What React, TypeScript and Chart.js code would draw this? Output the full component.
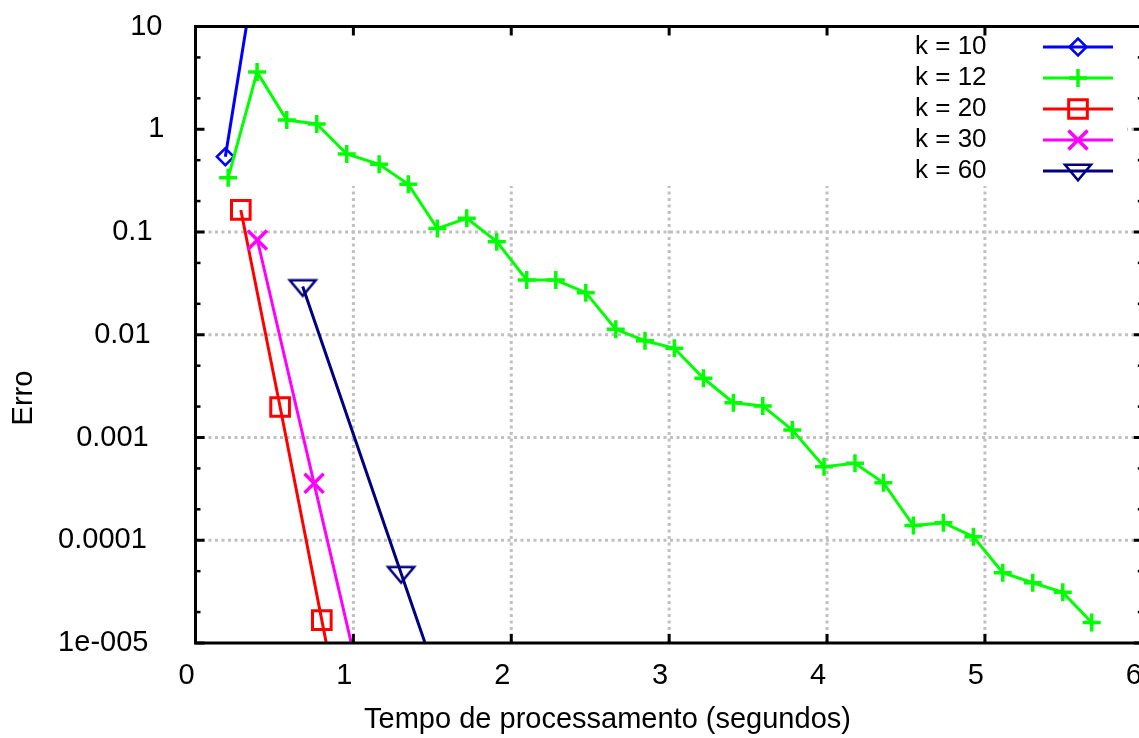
import React, { useEffect, useRef } from 'react';
import { Chart, registerables } from 'chart.js';
import { drawPoint } from 'chart.js/helpers';

Chart.register(...registerables);

const FONT = '"Liberation Sans", Arial, Helvetica, sans-serif';

// ---------- data ----------
const seriesLabels = ['k = 10', 'k = 12', 'k = 20', 'k = 30', 'k = 60'];

const k10X = [0.189, 0.378];
const k10Y = [0.54, 34];

const k12X = [0.207, 0.39, 0.578, 0.768, 0.958, 1.163, 1.348, 1.532, 1.718, 1.908, 2.098, 2.282, 2.472, 2.662, 2.847, 3.033, 3.217, 3.407, 3.593, 3.78, 3.981, 4.177, 4.357, 4.547, 4.737, 4.927, 5.113, 5.303, 5.493, 5.676];
const k12Y = [0.338, 3.6, 1.23, 1.125, 0.574, 0.456, 0.291, 0.108, 0.136, 0.0805, 0.0341, 0.0341, 0.0257, 0.0113, 0.00875, 0.00738, 0.00377, 0.00218, 0.00203, 0.00118, 0.00052, 0.000561, 0.000363, 0.000139, 0.000148, 0.000108, 4.83e-5, 3.86e-5, 3.11e-5, 1.58e-5];

const k20X = [0.287, 0.536, 0.8, 1.064];
const k20Y = [0.164, 0.00198, 1.67e-5, 1.4e-7];

const k30X = [0.392, 0.751, 1.11];
const k30Y = [0.0836, 3.58e-4, 1.53e-6];

const k60X = [0.679, 1.302, 1.925];
const k60Y = [0.0295, 4.77e-5, 7.9e-8];

const xTickValues = [0, 1, 2, 3, 4, 5, 6];
const xTickLabels = ['0', '1', '2', '3', '4', '5', '6'];
const yTickValues = [1e-5, 1e-4, 1e-3, 1e-2, 1e-1, 1, 10];
const yTickLabels = ['1e-005', '0.0001', '0.001', '0.01', '0.1', '1', '10'];
const yMinorTicks = [2e-5, 5e-5, 2e-4, 5e-4, 2e-3, 5e-3, 2e-2, 5e-2, 0.2, 0.5, 2, 5];
const xGridValues = [1, 2, 3, 4, 5];
const yGridValues = [1e-4, 1e-3, 1e-2, 1e-1, 1];

const xAxisTitle = 'Tempo de processamento (segundos)';
const yAxisTitle = 'Erro';

// key box (region where grid is hidden), in data units
const keyBoxXMax = 5.9;
const keyBoxYMin = 0.28;

const BLUE = '#0000ff';
const GREEN = '#00ff00';
const RED = '#ff0000';
const MAGENTA = '#ff00ff';
const NAVY = '#000080';
const GRID = '#c0c0c0';

const CANVAS_W = 1180;
const CANVAS_H = 738;
const PLOT_LEFT = 195.5;
const PLOT_TOP = 26.5;
const PLOT_BOTTOM = 643;
const PLOT_RIGHT = 1142.8;
const TEXT_SIZE = 29;
// y tick labels: gnuplot-style justification with a per-character width estimate
const Y_LABEL_ANCHOR = 166.3;
const Y_LABEL_CHAR = 18.03;

function toPoints(xs: number[], ys: number[]) {
  return xs.map((x, i) => ({ x, y: ys[i] }));
}

export default function App() {
  const ref = useRef<HTMLCanvasElement>(null);

  useEffect(() => {
    const canvas = ref.current!;

    const tri = document.createElement('canvas');
    tri.width = 34;
    tri.height = 26;
    const tctx = tri.getContext('2d')!;
    tctx.strokeStyle = NAVY;
    tctx.lineWidth = 2.5;
    tctx.beginPath();
    tctx.moveTo(4, 6.7);
    tctx.lineTo(30, 6.7);
    tctx.lineTo(17, 22.2);
    tctx.closePath();
    tctx.stroke();

    const decor = {
      id: 'decor',
      beforeDatasetsDraw(chart: any) {
        const { ctx, chartArea: ca, scales } = chart;
        const xs = scales.x, ys = scales.y;
        ctx.save();
        ctx.strokeStyle = GRID;
        ctx.lineWidth = 3;
        ctx.setLineDash([3, 3.5]);
        for (const v of xGridValues) {
          const px = xs.getPixelForValue(v);
          ctx.beginPath();
          ctx.moveTo(px, ca.bottom);
          ctx.lineTo(px, ca.top);
          ctx.stroke();
        }
        for (const v of yGridValues) {
          const py = ys.getPixelForValue(v);
          ctx.beginPath();
          ctx.moveTo(ca.left, py);
          ctx.lineTo(ca.right, py);
          ctx.stroke();
        }
        ctx.setLineDash([]);
        ctx.fillStyle = '#ffffff';
        const kx = xs.getPixelForValue(keyBoxXMax);
        const ky = ys.getPixelForValue(keyBoxYMin);
        ctx.fillRect(ca.left, ca.top, kx - ca.left, ky - ca.top);
        ctx.restore();
      },
      afterDatasetsDraw(chart: any) {
        const { ctx, chartArea: ca, scales } = chart;
        const xs = scales.x, ys = scales.y;
        ctx.save();
        ctx.strokeStyle = '#000';
        ctx.lineCap = 'butt';
        const seg = (a: number, b: number, c: number, d: number) => {
          ctx.beginPath();
          ctx.moveTo(a, b);
          ctx.lineTo(c, d);
          ctx.stroke();
        };
        ctx.lineWidth = 3;
        for (const v of yTickValues) {
          const py = ys.getPixelForValue(v);
          seg(ca.left, py, ca.left + 9, py);
          seg(ca.right, py, ca.right - 9, py);
        }
        for (const v of xTickValues) {
          const px = xs.getPixelForValue(v);
          seg(px, ca.bottom, px, ca.bottom - 9);
          seg(px, ca.top, px, ca.top + 9);
        }
        ctx.lineWidth = 2.5;
        for (const v of yMinorTicks) {
          const py = ys.getPixelForValue(v);
          seg(ca.left, py, ca.left + 5, py);
          seg(ca.right, py, ca.right - 5, py);
        }
        ctx.lineWidth = 3;
        ctx.strokeRect(ca.left, ca.top, ca.right - ca.left, ca.bottom - ca.top);

        // y tick labels
        ctx.fillStyle = '#000';
        ctx.font = `${TEXT_SIZE}px ${FONT}`;
        ctx.textAlign = 'left';
        ctx.textBaseline = 'middle';
        yTickValues.forEach((v, i) => {
          const label = yTickLabels[i];
          ctx.fillText(label, Y_LABEL_ANCHOR - Y_LABEL_CHAR * label.length, ys.getPixelForValue(v));
        });

        // legend
        ctx.font = `26px ${FONT}`;
        ctx.textAlign = 'left';
        ctx.textBaseline = 'middle';
        chart.data.datasets.forEach((ds: any, i: number) => {
          const yy = 47 + i * 31;
          ctx.fillStyle = '#000';
          ctx.fillText(seriesLabels[i], 915, yy);
          ctx.strokeStyle = ds.borderColor;
          ctx.lineWidth = ds.borderWidth;
          seg(1043, yy, 1113, yy);
          ctx.fillStyle = 'rgba(0,0,0,0)';
          ctx.strokeStyle = ds.pointBorderColor;
          ctx.lineWidth = ds.pointBorderWidth;
          drawPoint(ctx, {
            pointStyle: ds.pointStyle,
            radius: ds.pointRadius,
            rotation: 0,
            borderWidth: ds.pointBorderWidth,
          } as any, 1078, yy);
        });

        // axis titles
        ctx.fillStyle = '#000';
        ctx.font = `${TEXT_SIZE}px ${FONT}`;
        ctx.textAlign = 'center';
        ctx.textBaseline = 'middle';
        ctx.fillText(xAxisTitle, 607.5, 720);
        ctx.translate(24, 398);
        ctx.rotate(-Math.PI / 2);
        ctx.fillText(yAxisTitle, 0, 0);
        ctx.restore();
      },
    };

    const common = { showLine: true, fill: false, tension: 0, borderWidth: 3, pointBackgroundColor: 'rgba(0,0,0,0)' };

    const chart = new Chart(canvas, {
      type: 'scatter',
      data: {
        datasets: [
          { ...common, label: seriesLabels[0], data: toPoints(k10X, k10Y), borderColor: BLUE, pointBorderColor: BLUE, pointStyle: 'rectRot', pointRadius: 8.5, pointBorderWidth: 2.5, order: 4 },
          { ...common, label: seriesLabels[1], data: toPoints(k12X, k12Y), borderColor: GREEN, pointBorderColor: GREEN, pointStyle: 'cross', pointRadius: 9, pointBorderWidth: 3.5, order: 3 },
          { ...common, label: seriesLabels[2], data: toPoints(k20X, k20Y), borderColor: RED, pointBorderColor: RED, pointStyle: 'rect', pointRadius: 13.2, pointBorderWidth: 3, order: 2 },
          { ...common, label: seriesLabels[3], data: toPoints(k30X, k30Y), borderColor: MAGENTA, pointBorderColor: MAGENTA, pointStyle: 'crossRot', pointRadius: 13.5, pointBorderWidth: 3.5, order: 1 },
          { ...common, label: seriesLabels[4], data: toPoints(k60X, k60Y), borderColor: NAVY, pointBorderColor: NAVY, pointStyle: tri as any, pointRadius: 10, pointBorderWidth: 2.5, order: 0 },
        ] as any,
      },
      options: {
        animation: false,
        responsive: false,
        events: [],
        layout: { padding: { left: 0, top: PLOT_TOP, right: CANVAS_W - PLOT_RIGHT, bottom: 0 } },
        plugins: { legend: { display: false }, tooltip: { enabled: false }, title: { display: false } },
        scales: {
          x: {
            type: 'linear',
            min: 0,
            max: 6,
            afterFit: (s: any) => {
              s.height = CANVAS_H - PLOT_BOTTOM;
              s.paddingLeft = 0;
              s.paddingRight = 0;
            },
            afterBuildTicks: (s: any) => { s.ticks = xTickValues.map((v) => ({ value: v })); },
            grid: { display: false, drawTicks: false },
            border: { display: false },
            ticks: {
              autoSkip: false,
              maxRotation: 0,
              padding: 16,
              labelOffset: -9,
              color: '#000',
              font: { family: FONT, size: TEXT_SIZE },
              callback: (v: any) => xTickLabels[xTickValues.indexOf(Number(v))] ?? '',
            },
          },
          y: {
            type: 'logarithmic',
            min: 1e-5,
            max: 10,
            afterFit: (s: any) => {
              s.width = PLOT_LEFT;
              s.paddingTop = 0;
              s.paddingBottom = 0;
            },
            afterBuildTicks: (s: any) => { s.ticks = yTickValues.map((v) => ({ value: v })); },
            grid: { display: false, drawTicks: false },
            border: { display: false },
            ticks: { display: false },
          },
        },
      } as any,
      plugins: [decor],
    });

    return () => chart.destroy();
  }, []);

  return (
    <div style={{ position: 'fixed', left: 0, top: 0, width: 1139, height: 738, overflow: 'hidden', background: '#fff' }}>
      <canvas ref={ref} width={CANVAS_W} height={CANVAS_H} style={{ display: 'block', width: CANVAS_W, height: CANVAS_H }} />
    </div>
  );
}
